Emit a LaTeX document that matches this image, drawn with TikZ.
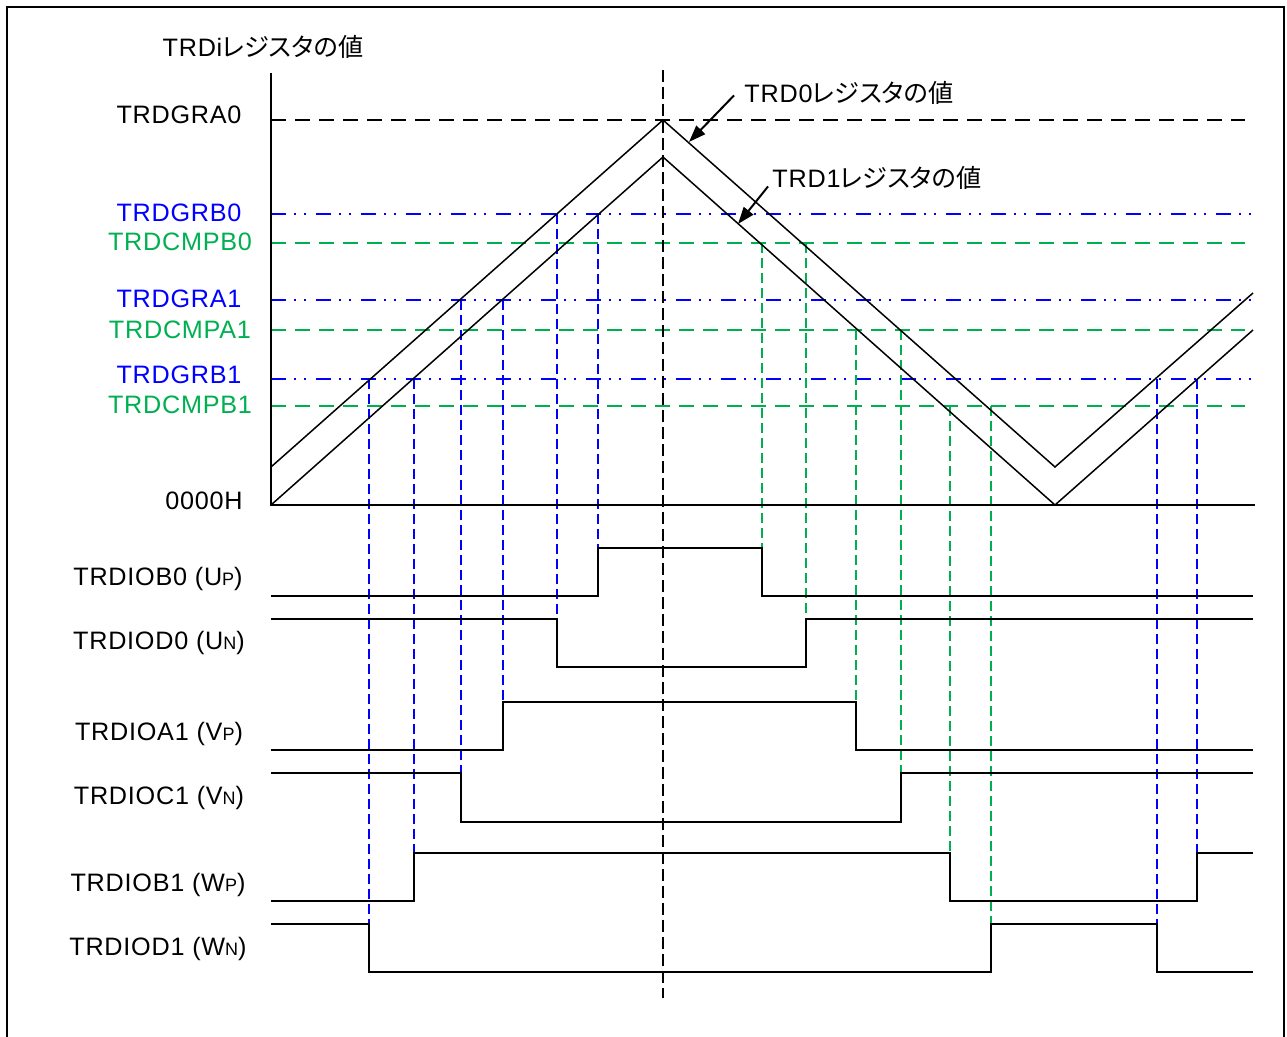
\documentclass[tikz,border=0pt]{standalone}
\usepackage{fontspec}
\setmainfont[LetterSpace=3]{Liberation Sans}
\newfontfamily\jp[RawFeature=+palt]{Noto Sans CJK JP}
\usetikzlibrary{arrows.meta}
\definecolor{regblue}{RGB}{0,0,255}
\definecolor{cmpgreen}{RGB}{0,176,80}
\newcommand{\pn}[1]{{\fontsize{9}{9}\selectfont #1}}

\begin{document}
\begin{tikzpicture}[x=.5pt,y=-.5pt,>={Triangle[length=8.5pt,width=6pt]},
  lbl/.style={font=\fontsize{12.6}{15}\selectfont,inner sep=0pt,anchor=base},
  ramp/.style={line width=.75pt},
  wave/.style={line width=1pt},
  lvlblack/.style={line width=1pt,dash pattern=on 7.5pt off 4.5pt},
  lvlblue/.style={regblue,line width=1pt,dash pattern=on 7.5pt off 4pt on 1pt off 4pt on 1pt off 5pt},
  lvlgreen/.style={cmpgreen,line width=1pt,dash pattern=on 7.5pt off 4.5pt},
  vblue/.style={regblue,line width=.65pt,dash pattern=on 5pt off 2.5pt},
  vgreen/.style={cmpgreen,line width=.65pt,dash pattern=on 5pt off 2.5pt}]
\useasboundingbox (0,0) rectangle (1287,1037);
\draw[line width=1pt] (7,1060) -- (7,7) -- (1284,7) -- (1284,1060);

% register levels
\draw[lvlblack] (271,120) -- (1245,120);
\draw[lvlblue] (271,214) -- (1255,214);
\draw[lvlgreen] (271,243) -- (1245,243);
\draw[lvlblue] (271,300) -- (1255,300);
\draw[lvlgreen] (271,330) -- (1245,330);
\draw[lvlblue] (271,379) -- (1255,379);
\draw[lvlgreen] (271,406) -- (1245,406);
\draw[line width=.65pt,dash pattern=on 6pt off 2.5pt] (663,70) -- (663,998);

% compare match lines
\draw[vblue] (369,379) -- (369,924);
\draw[vblue] (414,379) -- (414,853);
\draw[vblue] (461,300) -- (461,773);
\draw[vblue] (503,300) -- (503,702);
\draw[vblue] (557,214) -- (557,619);
\draw[vblue] (598,214) -- (598,548);
\draw[vblue] (1157,379) -- (1157,924);
\draw[vblue] (1197,379) -- (1197,853);
\draw[vgreen] (762,243) -- (762,548);
\draw[vgreen] (806,243) -- (806,619);
\draw[vgreen] (856,330) -- (856,702);
\draw[vgreen] (901,330) -- (901,773);
\draw[vgreen] (950,406) -- (950,853);
\draw[vgreen] (991,406) -- (991,924);

% counters
\draw[line width=1pt] (271,73) -- (271,505) -- (1255,505);
\draw[ramp] (271,467) -- (663,120) -- (1055,467) -- (1253,293);
\draw[ramp] (271,505) -- (663,157) -- (1055,505) -- (1253,330);

% outputs
\draw[wave] (271,596) -- (598,596) -- (598,548) -- (762,548) -- (762,596) -- (1253,596);
\draw[wave] (271,619) -- (557,619) -- (557,667) -- (806,667) -- (806,619) -- (1253,619);
\draw[wave] (271,750) -- (503,750) -- (503,702) -- (856,702) -- (856,750) -- (1253,750);
\draw[wave] (271,773) -- (461,773) -- (461,822) -- (901,822) -- (901,773) -- (1253,773);
\draw[wave] (271,901) -- (414,901) -- (414,853) -- (950,853) -- (950,901) -- (1197,901) -- (1197,853) -- (1253,853);
\draw[wave] (271,924) -- (369,924) -- (369,972) -- (991,972) -- (991,924) -- (1157,924) -- (1157,972) -- (1253,972);

\node[lbl] (ttl) at (263,57) {TRDi{\jp レジスタの値}};
\node[lbl] (gra0) at (179,124) {TRDGRA0};
\node[lbl,text=regblue] (grb0) at (179,222) {TRDGRB0};
\node[lbl,text=cmpgreen] (cmpb0) at (180,251) {TRDCMPB0};
\node[lbl,text=regblue] (gra1) at (179,308) {TRDGRA1};
\node[lbl,text=cmpgreen] (cmpa1) at (180,339) {TRDCMPA1};
\node[lbl,text=regblue] (grb1) at (179,384) {TRDGRB1};
\node[lbl,text=cmpgreen] (cmpb1) at (180,414) {TRDCMPB1};
\node[lbl] (zero) at (204,510) {0000H};
\node[lbl] (uP) at (158,586) {TRDIOB0 (U\pn{P})};
\node[lbl] (uN) at (159,650) {TRDIOD0 (U\pn{N})};
\node[lbl] (vP) at (159,741) {TRDIOA1 (V\pn{P})};
\node[lbl] (vN) at (159,805) {TRDIOC1 (V\pn{N})};
\node[lbl] (wP) at (158,892) {TRDIOB1 (W\pn{P})};
\node[lbl] (wN) at (158,956) {TRDIOD1 (W\pn{N})};
\node[lbl,inner xsep=5pt] (trd0) at (849,103) {TRD0{\jp レジスタの値}};
\node[lbl,inner xsep=2pt] (trd1) at (877,188) {TRD1{\jp レジスタの値}};

\coordinate (tip0) at (689,142);
\coordinate (tip1) at (738,224);
\draw[->,line width=1pt] ([yshift=-1pt]trd0.west) -- (tip0);
\draw[->,line width=1pt] ([yshift=-4pt]trd1.west) -- (tip1);
\end{tikzpicture}
\end{document}
